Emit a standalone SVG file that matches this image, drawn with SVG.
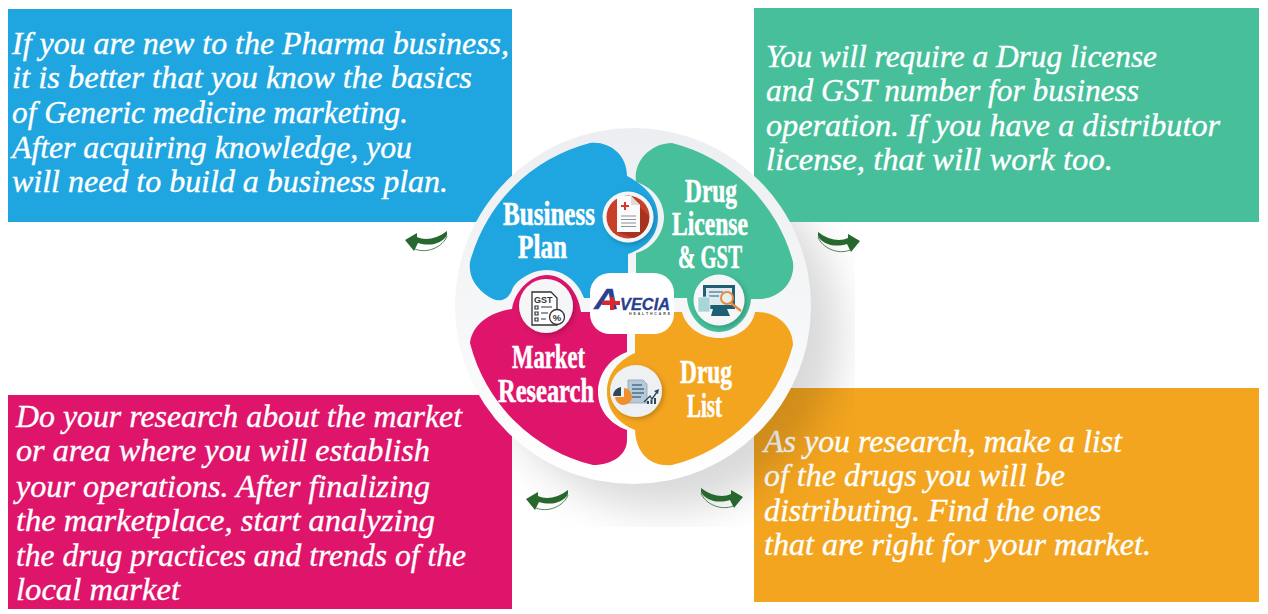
<svg xmlns="http://www.w3.org/2000/svg" width="1268" height="614" viewBox="0 0 1268 614">
<style>
.body{font-family:"Liberation Serif","Times New Roman",serif;font-style:italic;font-size:31px;fill:#fff;stroke:#fff;stroke-width:.35}
.lab{font-family:"Liberation Serif","Times New Roman",serif;font-weight:700;font-size:33px;fill:#fff;stroke:#fff;stroke-width:.6}
.w{fill:#fff}
.ln{stroke:#8b9298;stroke-width:1;fill:none}
.dk{stroke:#2f3336;stroke-width:1.2;fill:none}
.nav{font-family:"Liberation Sans",Arial,sans-serif;font-weight:700;font-style:italic;fill:#27408f;stroke:#27408f;stroke-width:.3}
</style>
<defs>
<linearGradient id="disc" x1="0" y1="0" x2="0" y2="1"><stop offset="0" stop-color="#eceef1"/><stop offset=".55" stop-color="#f6f7f8"/><stop offset="1" stop-color="#fff"/></linearGradient>
<filter id="blur" x="-30%" y="-30%" width="160%" height="160%"><feGaussianBlur stdDeviation="20"/></filter>
<filter id="sd" x="-30%" y="-30%" width="170%" height="170%"><feDropShadow dx="2" dy="2" stdDeviation="2.500" flood-color="#000" flood-opacity=".22"/></filter>
<clipPath id="shclip"><rect x="512" y="222" width="343" height="305"/></clipPath>
<g id="arr">
<path fill="#27682f" d="M0,10 L12,3 L12,7 C20,11 32,9 42,1 L42,5 C38,13 26,17 13,13 L9,21 Z"/>
<path fill="none" stroke="#27682f" stroke-width=".8" d="M42,6 C38,17 22,24 10,19"/>
</g>
</defs>

<g id="box-plan">
<rect x="8" y="9" width="504" height="213" fill="#1fa6e0"/>
<text class="body" x="12" y="54" textLength="497" lengthAdjust="spacingAndGlyphs">If you are new to the Pharma business,</text>
<text class="body" x="12" y="88" textLength="460" lengthAdjust="spacingAndGlyphs">it is better that you know the basics</text>
<text class="body" x="12" y="123" textLength="396" lengthAdjust="spacingAndGlyphs">of Generic medicine marketing.</text>
<text class="body" x="12" y="158" textLength="400" lengthAdjust="spacingAndGlyphs">After acquiring knowledge, you</text>
<text class="body" x="12" y="192" textLength="436" lengthAdjust="spacingAndGlyphs">will need to build a business plan.</text>
</g>
<g id="box-license">
<rect x="754" y="8" width="505" height="214" fill="#46bf9a"/>
<text class="body" x="766" y="67" textLength="391" lengthAdjust="spacingAndGlyphs">You will require a Drug license</text>
<text class="body" x="766" y="101" textLength="373" lengthAdjust="spacingAndGlyphs">and GST number for business</text>
<text class="body" x="766" y="136" textLength="454" lengthAdjust="spacingAndGlyphs">operation. If you have a distributor</text>
<text class="body" x="766" y="170" textLength="347" lengthAdjust="spacingAndGlyphs">license, that will work too.</text>
</g>
<g id="box-research">
<rect x="8" y="395" width="504" height="214" fill="#de156a"/>
<text class="body" x="16" y="427" textLength="446" lengthAdjust="spacingAndGlyphs">Do your research about the market</text>
<text class="body" x="16" y="461" textLength="414" lengthAdjust="spacingAndGlyphs">or area where you will establish</text>
<text class="body" x="16" y="497" textLength="414" lengthAdjust="spacingAndGlyphs">your operations. After finalizing</text>
<text class="body" x="16" y="531" textLength="419" lengthAdjust="spacingAndGlyphs">the marketplace, start analyzing</text>
<text class="body" x="16" y="566" textLength="450" lengthAdjust="spacingAndGlyphs">the drug practices and trends of the</text>
<text class="body" x="16" y="600" textLength="164" lengthAdjust="spacingAndGlyphs">local market</text>
</g>
<g id="box-list">
<rect x="754" y="388" width="505" height="214" fill="#f4a51f"/>
<text class="body" x="764" y="452" textLength="358" lengthAdjust="spacingAndGlyphs">As you research, make a list</text>
<text class="body" x="764" y="486" textLength="301" lengthAdjust="spacingAndGlyphs">of the drugs you will be</text>
<text class="body" x="764" y="521" textLength="337" lengthAdjust="spacingAndGlyphs">distributing. Find the ones</text>
<text class="body" x="764" y="555" textLength="387" lengthAdjust="spacingAndGlyphs">that are right for your market.</text>
</g>

<g id="shadow" clip-path="url(#shclip)"><circle cx="664" cy="334" r="176" fill="#000" fill-opacity=".15" filter="url(#blur)"/></g>

<g id="connectors">
<use href="#arr" transform="translate(405,230)"/>
<use href="#arr" transform="translate(860,231) scale(-1,1)"/>
<use href="#arr" transform="translate(526,489)"/>
<use href="#arr" transform="translate(743,487) scale(-1,1)"/>
</g>

<g id="hub">
<circle cx="633" cy="306" r="178" fill="url(#disc)"/>
</g>

<g id="node-business">
<path fill="#1fa6e0" d="M470,262 A168,168 0 0 1 590,143 C610,141 627,155 627,176 C640,183 658,195 658,217 C658,240 640,250 628,254 L628,298 L584,298 C578,281 563,270 547,270 C531,270 515,281 512,290 C508,300 500,302 493,299 C480,292 468,280 470,262 Z"/>
<g filter="url(#sd)"><circle cx="628" cy="217" r="25.500" fill="#f4f5f6"/></g>
<circle cx="628" cy="217" r="21.500" fill="#c9402a"/>
<path d="M640,207 L649,216 A21.500,21.500 0 0 1 634,238 L617,232 H640 Z" fill="#a83220"/>
<path d="M617,196 H631 L640,205 V232 H617 Z" fill="#fbfbfb"/>
<path d="M631,196 L640,205 H631 Z" fill="#dcdcdc"/>
<path d="M621,205 h3 v-3 h2 v3 h3 v2 h-3 v3 h-2 v-3 h-3 Z" fill="#d8392b"/>
<path class="ln" d="M621,216 H636 M621,219.500 H636 M621,223 H636 M621,226.500 H636"/>
<text class="lab" x="503" y="225" textLength="92" lengthAdjust="spacingAndGlyphs">Business</text>
<text class="lab" x="518" y="258" textLength="49" lengthAdjust="spacingAndGlyphs">Plan</text>
</g>

<g id="node-license">
<path fill="#46bf9a" d="M672,143 A168,168 0 0 1 793,262 C795,278 785,296 762,299 L751,299 C750,316 736,332 719,332 C702,332 688,316 687,298 L636,298 L636,253 C650,250 664,235 664,217 C664,199 650,186 636,182 C633,160 652,143 672,143 Z"/>
<g filter="url(#sd)"><circle cx="719" cy="300" r="25.500" fill="#f5f6f7"/></g>
<path d="M703,285 H735 V309 H703 Z" fill="#1f5f73"/>
<rect x="706" y="288" width="26" height="17" fill="#dfe9ee"/>
<path d="M709,292 h14 M709,296 h10" stroke="#5c8ea3" stroke-width="1.500"/>
<rect x="698" y="297" width="12" height="15" fill="#a8d5d8" stroke="#fff" stroke-width=".6"/>
<path d="M713,309 H727 L730,316 H711 Z" fill="#1f5f73"/>
<circle cx="727" cy="298" r="6" fill="#e7eef0" stroke="#e88a3c" stroke-width="2"/>
<path d="M731,303 L741,311" stroke="#e88a3c" stroke-width="2.500"/>
<text class="lab" x="685" y="202" textLength="52" lengthAdjust="spacingAndGlyphs">Drug</text>
<text class="lab" x="672" y="235" textLength="76" lengthAdjust="spacingAndGlyphs">License</text>
<text class="lab" x="678" y="268" textLength="64" lengthAdjust="spacingAndGlyphs">&amp; GST</text>
</g>

<g id="node-research">
<path fill="#de156a" d="M470,343 C472,325 490,312 512,309 C515,290 531,275 547,275 C563,275 578,290 581,312 L627,312 L627,352 C610,358 598,374 598,392 C598,410 610,424 627,430 L627,440 C627,455 612,465 593,465 A168,168 0 0 1 470,343 Z"/>
<g filter="url(#sd)"><circle cx="546" cy="306" r="27" fill="#f5f6f7"/></g>
<path d="M532,292 H551 L557,298 V325 H532 Z" fill="#fff" stroke="#2f3336" stroke-width="1.300"/>
<text x="534" y="303" font-family="Liberation Sans,Arial,sans-serif" font-size="9" font-weight="700" fill="#2f3336">GST</text>
<path class="dk" d="M535,306 h3 v3 h-3 Z M541,307 h11 M535,312 h3 v3 h-3 Z M541,313 h7 M535,318 h3 v3 h-3 Z M541,319 h5"/>
<circle cx="557" cy="317" r="7.500" fill="#fff" stroke="#2f3336" stroke-width="1.300"/>
<text x="557" y="320.500" text-anchor="middle" font-family="Liberation Sans,Arial,sans-serif" font-size="9.500" font-weight="700" fill="#2f3336">%</text>
<text class="lab" x="512" y="368" textLength="73" lengthAdjust="spacingAndGlyphs">Market</text>
<text class="lab" x="498" y="402" textLength="96" lengthAdjust="spacingAndGlyphs">Research</text>
</g>

<g id="node-list">
<path fill="#f4a51f" d="M635,312 L682,312 C686,328 702,338 719,338 C737,338 752,328 755,312 C775,311 793,325 793,345 A168,168 0 0 1 672,465 C652,467 636,455 635,430 C620,424 607,412 607,392 C607,372 620,360 635,353 Z"/>
<g filter="url(#sd)"><circle cx="636" cy="391" r="26" fill="#eef1f3"/></g>
<path d="M628,380 H643 L647,384 V403 H628 Z" fill="#b8c8d6" stroke="#8ea3b5" stroke-width=".8"/>
<path d="M632,385 h10 M632,389 h12 M632,393 h12 M632,397 h9" stroke="#45708f" stroke-width="1.300"/>
<path d="M621,387 A9,9 0 0 0 613,396 H621 Z" fill="#2f4858"/>
<path d="M624,388 A8.500,8.500 0 1 1 615,397 H624 Z" fill="#ef8f2e"/>
<path d="M644,402 L650,396 L652,399 L657,392" stroke="#2f4858" stroke-width="1.300" fill="none"/>
<path d="M659,389 L654,391 L658,394 Z" fill="#2f4858"/>
<path d="M647,401 h2 v3 h-2 Z M650.500,399.500 h2 v4.500 h-2 Z M654,398 h2 v6 h-2 Z" fill="#2f4858"/>
<text class="lab" x="680" y="383" textLength="52" lengthAdjust="spacingAndGlyphs">Drug</text>
<text class="lab" x="687" y="417" textLength="35" lengthAdjust="spacingAndGlyphs">List</text>
</g>

<g id="logo">
<rect x="590" y="273" width="84" height="61" rx="20" class="w"/>
<text class="nav" x="594" y="309" font-size="30" textLength="25" lengthAdjust="spacingAndGlyphs">A</text>
<path d="M610,297 h4 v4 h6 v4 h-6 v5 h-4 v-5 h-8 v-4 h8 Z" fill="#e0262d"/>
<text class="nav" x="620" y="310" font-size="17" textLength="50" lengthAdjust="spacingAndGlyphs">VECIA</text>
<text x="629" y="314.500" font-family="Liberation Sans,Arial,sans-serif" font-weight="700" font-size="3.500" fill="#444" textLength="41">HEALTHCARE</text>
</g>
</svg>
